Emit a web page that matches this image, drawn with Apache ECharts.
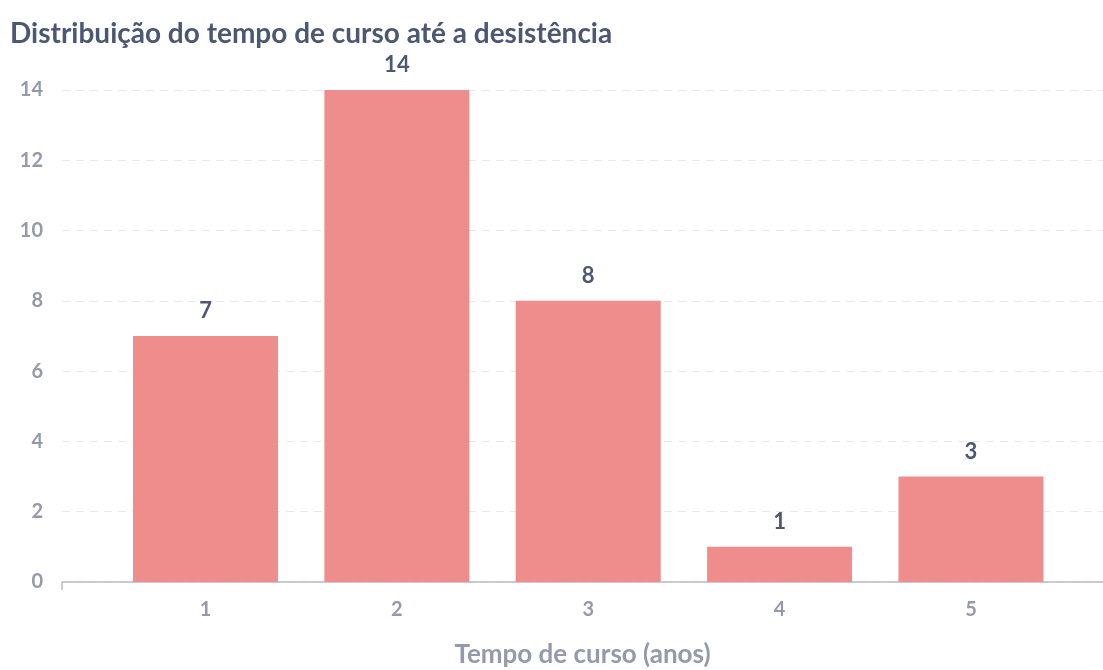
<!DOCTYPE html>
<html lang="pt">
<head>
    <meta charset="UTF-8">
    <title>Distribuição do tempo de curso até a desistência</title>
    <script src="https://cdn.jsdelivr.net/npm/echarts@6/dist/echarts.min.js"></script>
    <style>
        body { margin: 0; padding: 0; background: #fff; }
        #chart { width: 1103px; height: 670px; }
    </style>
</head>
<body>
<div id="chart"></div>
<script>
// dados
const anos = [1, 2, 3, 4, 5];
const desistencias = [7, 14, 8, 1, 3];
const yTicks = [0, 2, 4, 6, 8, 10, 12, 14];

const chart = echarts.init(document.getElementById('chart'));

chart.setOption({
    animation: false,
    textStyle: { fontFamily: 'Lato' },
    title: {
        text: 'Distribuição do tempo de curso até a desistência',
        left: 5,
        top: 15,
        textStyle: { fontFamily: 'Lato', fontSize: 28, fontWeight: 'bold', color: '#4c5773' }
    },
    grid: { left: 62, right: 0, top: 90, bottom: 88, outerBoundsMode: 'none' },
    xAxis: {
        type: 'value',
        min: 0.25,
        max: 5.69,
        name: 'Tempo de curso (anos)',
        nameLocation: 'middle',
        nameGap: 60,
        nameTextStyle: { fontFamily: 'Lato', fontSize: 26, fontWeight: 'bold', color: '#949aab' },
        splitLine: { show: false },
        axisLine: { show: true, lineStyle: { color: '#b8bcc6', width: 1.5 } },
        axisTick: { show: true, customValues: [0.25], length: 8, lineStyle: { color: '#b8bcc6', width: 1.5 } },
        axisLabel: {
            customValues: anos,
            margin: 18,
            fontSize: 20,
            fontWeight: 'bold',
            color: '#949aab'
        }
    },
    yAxis: {
        type: 'value',
        min: 0,
        max: 14,
        interval: 2,
        axisLine: { show: false },
        axisTick: { show: false },
        axisLabel: {
            customValues: yTicks,
            margin: 19,
            fontSize: 20,
            fontWeight: 'bold',
            color: '#949aab'
        },
        splitLine: { lineStyle: { color: '#e6e8ec', type: [8, 6], width: 1 } }
    },
    series: [{
        type: 'bar',
        barWidth: 145,
        data: anos.map((a, i) => [a, desistencias[i]]),
        itemStyle: { color: '#ef8c8c' },
        label: {
            show: true,
            position: 'top',
            distance: 14,
            formatter: p => p.value[1],
            fontSize: 22,
            fontWeight: 'bold',
            color: '#4c5773'
        }
    }]
});
</script>
</body>
</html>
